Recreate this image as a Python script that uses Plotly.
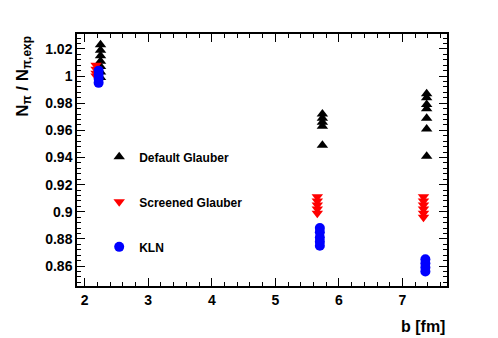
import plotly.graph_objects as go

# impact parameter positions (fm) per model
b_default = [2.25] * 7 + [5.74] * 5 + [7.38] * 7
n_default = [1.023, 1.019, 1.015, 1.011, 1.007, 1.003, 0.999,
             0.972, 0.969, 0.966, 0.963, 0.949,
             0.987, 0.984, 0.979, 0.976, 0.969, 0.961, 0.941]

b_screened = [2.18] * 4 + [5.66] * 5 + [7.33] * 6
n_screened = [1.008, 1.005, 1.002, 1.000,
              0.911, 0.908, 0.905, 0.902, 0.899,
              0.911, 0.908, 0.905, 0.902, 0.899, 0.896]

b_kln = [2.22] * 4 + [5.70] * 5 + [7.36] * 4
n_kln = [1.004, 1.001, 0.998, 0.995,
         0.888, 0.885, 0.881, 0.878, 0.875,
         0.865, 0.862, 0.859, 0.856]

x_ticks = [2, 3, 4, 5, 6, 7]
y_ticks = [0.86, 0.88, 0.9, 0.92, 0.94, 0.96, 0.98, 1.0, 1.02]
y_labels = ["0.86", "0.88", "0.9", "0.92", "0.94", "0.96", "0.98", "1", "1.02"]

FONT = "Liberation Sans"

fig = go.Figure()
fig.add_trace(go.Scatter(x=b_default, y=n_default, mode="markers", name="<b>Default Glauber</b>",
                         legendgroup="a",
                         marker=dict(symbol="triangle-up", size=10, color="black")))
fig.add_trace(go.Scatter(x=b_screened, y=n_screened, mode="markers", name="<b>Screened Glauber</b>",
                         legendgroup="b",
                         marker=dict(symbol="triangle-down", size=10, color="red")))
fig.add_trace(go.Scatter(x=b_kln, y=n_kln, mode="markers", name="<b>KLN</b>",
                         legendgroup="c",
                         marker=dict(symbol="circle", size=10, color="blue")))

axis_common = dict(showline=True, linecolor="black", linewidth=1.5, mirror="allticks",
                   ticks="inside", ticklen=8, tickwidth=1.2, tickcolor="black",
                   showgrid=False, zeroline=False,
                   tickfont=dict(family=FONT, size=14, color="black", weight="bold"))

fig.update_xaxes(range=[1.88, 7.7], tickvals=x_ticks,
                 minor=dict(dtick=0.2, ticks="inside", ticklen=4, tickcolor="black", tickwidth=1.2),
                 **axis_common)
fig.update_yaxes(range=[0.8453, 1.031], tickvals=y_ticks, ticktext=y_labels,
                 minor=dict(dtick=0.004, ticks="inside", ticklen=4, tickcolor="black", tickwidth=1.2),
                 **axis_common)

fig.update_layout(
    width=498, height=338,
    margin=dict(l=77, r=51, t=34, b=52),
    paper_bgcolor="white", plot_bgcolor="white",
    font=dict(family=FONT, color="black"),
    legend=dict(x=0.06, y=0.57, xanchor="left", yanchor="top",
                bgcolor="rgba(0,0,0,0)", tracegroupgap=26, traceorder="grouped",
                font=dict(family=FONT, size=12, color="black")),
    annotations=[
        dict(text="<b>N<sub>π</sub> / N<sub>π,exp</sub></b>", textangle=-90,
             xref="paper", yref="paper", x=-0.145, y=1.0, xanchor="center", yanchor="top",
             showarrow=False, font=dict(family=FONT, size=17, color="black")),
        dict(text="<b>b [fm]</b>", xref="paper", yref="paper", x=1.0, y=-0.12,
             xanchor="right", yanchor="top", showarrow=False,
             font=dict(family=FONT, size=16, color="black")),
    ],
)

fig.write_html("out.html", config={"displayModeBar": False},
               post_script="document.body.style.margin='0';")
